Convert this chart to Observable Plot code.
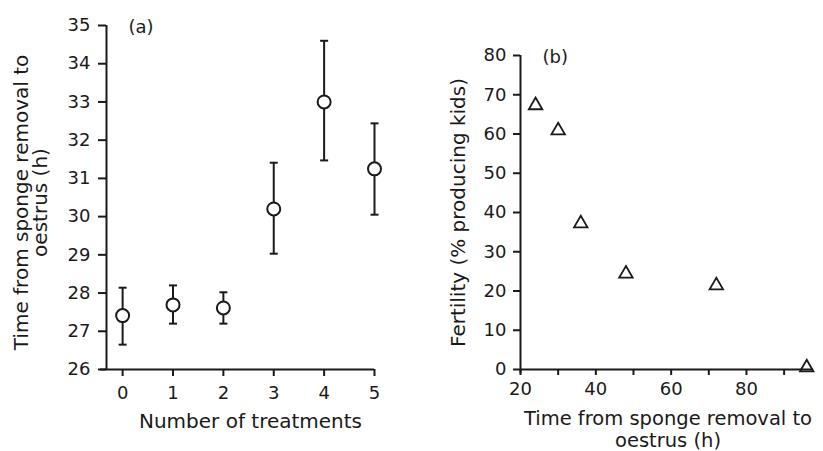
<!DOCTYPE html>
<html>
<head>
<meta charset="utf-8">
<script src="https://cdn.jsdelivr.net/npm/d3@7"></script>
<script src="https://cdn.jsdelivr.net/npm/@observablehq/plot@0.6"></script>
<style>
  html, body { margin: 0; padding: 0; background: #ffffff; }
  #wrap { position: relative; width: 823px; height: 451px; overflow: hidden; background: #ffffff; }
  #wrap > div { position: absolute; top: 0; }
  #left { left: 0; }
  #right { left: 410px; }
</style>
</head>
<body>
<div id="wrap"><div id="left"></div><div id="right"></div></div>
<script>
// ---- Panel (a) data ----
const treatments = [0, 1, 2, 3, 4, 5];
const meanTime   = [27.41, 27.69, 27.61, 30.2, 33.0, 31.25];
const lowTime    = [26.65, 27.2, 27.2, 29.03, 31.47, 30.05];
const highTime   = [28.14, 28.2, 28.02, 31.41, 34.6, 32.44];
const xDomainA = [-0.32, 5];
const yDomainA = [26, 35];
const yTicksA = [26, 27, 28, 29, 30, 31, 32, 33, 34, 35];

// ---- Panel (b) data ----
const hoursToOestrus = [24, 30, 36, 48, 72, 96];
const fertility      = [67.3, 60.9, 37.2, 24.4, 21.4, 0.5];
const xDomainB = [20, 97.8];
const yDomainB = [0, 80];
const xTicksB = [20, 30, 40, 50, 60, 70, 80, 90];
const xTickLabelsB = [20, 40, 60, 80];
const yTicksB = [0, 10, 20, 30, 40, 50, 60, 70, 80];

const ink = "#1a1a1a";
const font = "DejaVu Sans";

const rowsA = treatments.map((n, i) => ({n, mean: meanTime[i], lo: lowTime[i], hi: highTime[i]}));
const rowsB = hoursToOestrus.map((h, i) => ({h, f: fertility[i]}));

const capSymbol = {
  draw(context, size) {
    const r = Math.sqrt(size / Math.PI);
    context.moveTo(-r, 0);
    context.lineTo(r, 0);
  }
};

const plotA = Plot.plot({
  width: 410, height: 451,
  marginLeft: 106, marginRight: 36, marginTop: 25, marginBottom: 82,
  style: {fontFamily: font, fontSize: "18px", color: ink, background: "transparent", overflow: "visible"},
  x: {domain: xDomainA},
  y: {domain: yDomainA},
  marks: [
    Plot.axisX({ticks: treatments, tickFormat: d => String(d), tickSize: 7, tickPadding: 10, label: null, strokeWidth: 2, fontSize: 18}),
    Plot.axisY({ticks: yTicksA, tickFormat: d => String(d), tickSize: 8, tickPadding: 8, label: null, strokeWidth: 2, fontSize: 18}),
    Plot.ruleX([xDomainA[0]], {stroke: ink, strokeWidth: 2}),
    Plot.ruleY([yDomainA[0]], {stroke: ink, strokeWidth: 2, insetLeft: -6}),
    Plot.ruleX(rowsA, {x: "n", y1: "lo", y2: "hi", stroke: ink, strokeWidth: 2}),
    Plot.dot(rowsA, {x: "n", y: "hi", symbol: capSymbol, r: 4, stroke: ink, fill: "none", strokeWidth: 2}),
    Plot.dot(rowsA, {x: "n", y: "lo", symbol: capSymbol, r: 4, stroke: ink, fill: "none", strokeWidth: 2}),
    Plot.dot(rowsA, {x: "n", y: "mean", r: 6.5, stroke: ink, fill: "white", strokeWidth: 2}),
    Plot.text(["(a)"], {frameAnchor: "top-left", textAnchor: "start", lineAnchor: "middle", dx: 22, dy: 2, fontSize: 18, fill: ink}),
    Plot.text(["Number of treatments"], {frameAnchor: "bottom", textAnchor: "middle", lineAnchor: "top", dx: 10, dy: 44, fontSize: 20, fill: ink}),
    Plot.text(["Time from sponge removal to\noestrus (h)"], {frameAnchor: "left", textAnchor: "middle", rotate: -90, lineAnchor: "middle", lineHeight: 0.95, dx: -75, dy: 5, fontSize: 20, fill: ink})
  ]
});

const plotB = Plot.plot({
  width: 413, height: 451,
  marginLeft: 110, marginRight: 10, marginTop: 55, marginBottom: 82,
  style: {fontFamily: font, fontSize: "18px", color: ink, background: "transparent", overflow: "visible"},
  x: {domain: xDomainB},
  y: {domain: yDomainB},
  marks: [
    Plot.axisX({ticks: xTicksB, tickFormat: d => xTickLabelsB.includes(d) ? String(d) : "", tickSize: 6, tickPadding: 7, label: null, strokeWidth: 2, fontSize: 18}),
    Plot.axisY({ticks: yTicksB, tickFormat: d => String(d), tickSize: 7, tickPadding: 7, label: null, strokeWidth: 2, fontSize: 18}),
    Plot.ruleX([xDomainB[0]], {stroke: ink, strokeWidth: 2, insetBottom: -4}),
    Plot.ruleY([yDomainB[0]], {stroke: ink, strokeWidth: 2}),
    Plot.dot(rowsB, {x: "h", y: "f", symbol: "triangle", r: 5, stroke: ink, fill: "none", strokeWidth: 1.8}),
    Plot.text(["(b)"], {frameAnchor: "top-left", textAnchor: "start", lineAnchor: "middle", dx: 22, dy: 2, fontSize: 18, fill: ink}),
    Plot.text(["Time from sponge removal to\noestrus (h)"], {frameAnchor: "bottom", textAnchor: "middle", lineAnchor: "top", lineHeight: 1.12, dx: 1, dy: 40, fontSize: 19.5, fill: ink}),
    Plot.text(["Fertility (% producing kids)"], {frameAnchor: "left", textAnchor: "middle", rotate: -90, lineAnchor: "middle", dx: -62, dy: 0, fontSize: 20, fill: ink})
  ]
});

document.getElementById("left").appendChild(plotA);
document.getElementById("right").appendChild(plotB);
</script>
</body>
</html>
